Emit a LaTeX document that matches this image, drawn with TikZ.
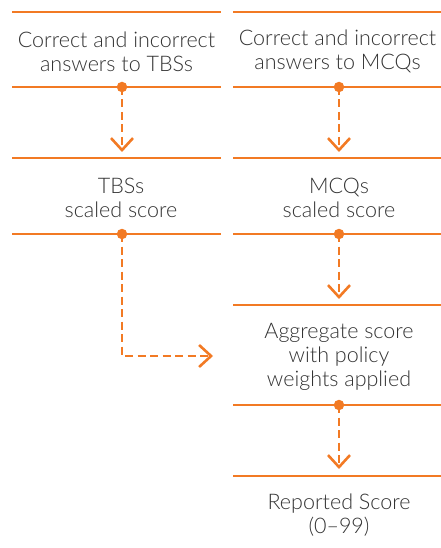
\documentclass[tikz,border=0pt]{standalone}
\usepackage{fontspec}
\setmainfont{Lato}[UprightFont=* Light]
\usetikzlibrary{arrows.meta}
\definecolor{org}{HTML}{F27A24}
\definecolor{txt}{HTML}{333333}
\tikzset{
  rule/.style={draw=org, line width=2.6pt},
  dot/.style={circle, fill=org, inner sep=0pt, minimum size=10.5pt},
  flow/.style={draw=org, line width=2.6pt, dash pattern=on 8pt off 4.5pt,
    -{Straight Barb[length=12pt,width=22pt,line width=2.6pt]}},
  label/.style={text=txt, align=center, font=\fontsize{21.5}{24}\selectfont, inner sep=0pt}
}
\begin{document}
\begin{tikzpicture}[x=1pt,y=-1pt]
\useasboundingbox (0,0) rectangle (441,548);
% horizontal rules
\coordinate (l1a) at (12,12); \coordinate (l1b) at (221,12);
\coordinate (r1a) at (233,12); \coordinate (r1b) at (441,12);
\coordinate (l2a) at (12,87); \coordinate (l2b) at (221,87);
\coordinate (r2a) at (233,87); \coordinate (r2b) at (441,87);
\coordinate (l3a) at (12,158); \coordinate (l3b) at (221,158);
\coordinate (r3a) at (233,158); \coordinate (r3b) at (441,158);
\coordinate (l4a) at (12,234); \coordinate (l4b) at (221,234);
\coordinate (r4a) at (233,234); \coordinate (r4b) at (441,234);
\coordinate (r5a) at (233,305); \coordinate (r5b) at (441,305);
\coordinate (r6a) at (233,405); \coordinate (r6b) at (441,405);
\coordinate (r7a) at (233,476); \coordinate (r7b) at (441,476);
\foreach \p in {l1,r1,l2,r2,l3,r3,l4,r4,r5,r6,r7} \draw[rule] (\p a) -- (\p b);
% labels
\node[label] (tbsin) at (116.5,51.5) {Correct and incorrect\\answers to TBSs};
\node[label] (mcqin) at (337.5,51.5) {Correct and incorrect\\answers to MCQs};
\node[label] (tbss) at (121,198) {TBSs\\scaled score};
\node[label] (mcqs) at (339,198) {MCQs\\scaled score};
\node[label] (agg) at (339,356.5) {Aggregate score\\with policy\\weights applied};
\node[label] (rep) at (339,515) {Reported Score\\(0–99)};
% dots
\node[dot] (d1) at (122,87) {};
\node[dot] (d2) at (339,87) {};
\node[dot] (d3) at (122,234) {};
\node[dot] (d4) at (339,234) {};
\node[dot] (d5) at (339,405) {};
% arrow ends
\coordinate (e1) at (122,152);
\coordinate (e2) at (339,152);
\coordinate (e4) at (339,299);
\coordinate (c3) at (122,356);
\coordinate (e3) at (213,356);
\coordinate (e5) at (339,469);
\draw[flow] (d1.center) -- (e1);
\draw[flow] (d2.center) -- (e2);
\draw[flow] (d4.center) -- (e4);
\draw[flow] (d3.center) -- (c3) -- (e3);
\draw[flow] (d5.center) -- (e5);
\end{tikzpicture}
\end{document}
